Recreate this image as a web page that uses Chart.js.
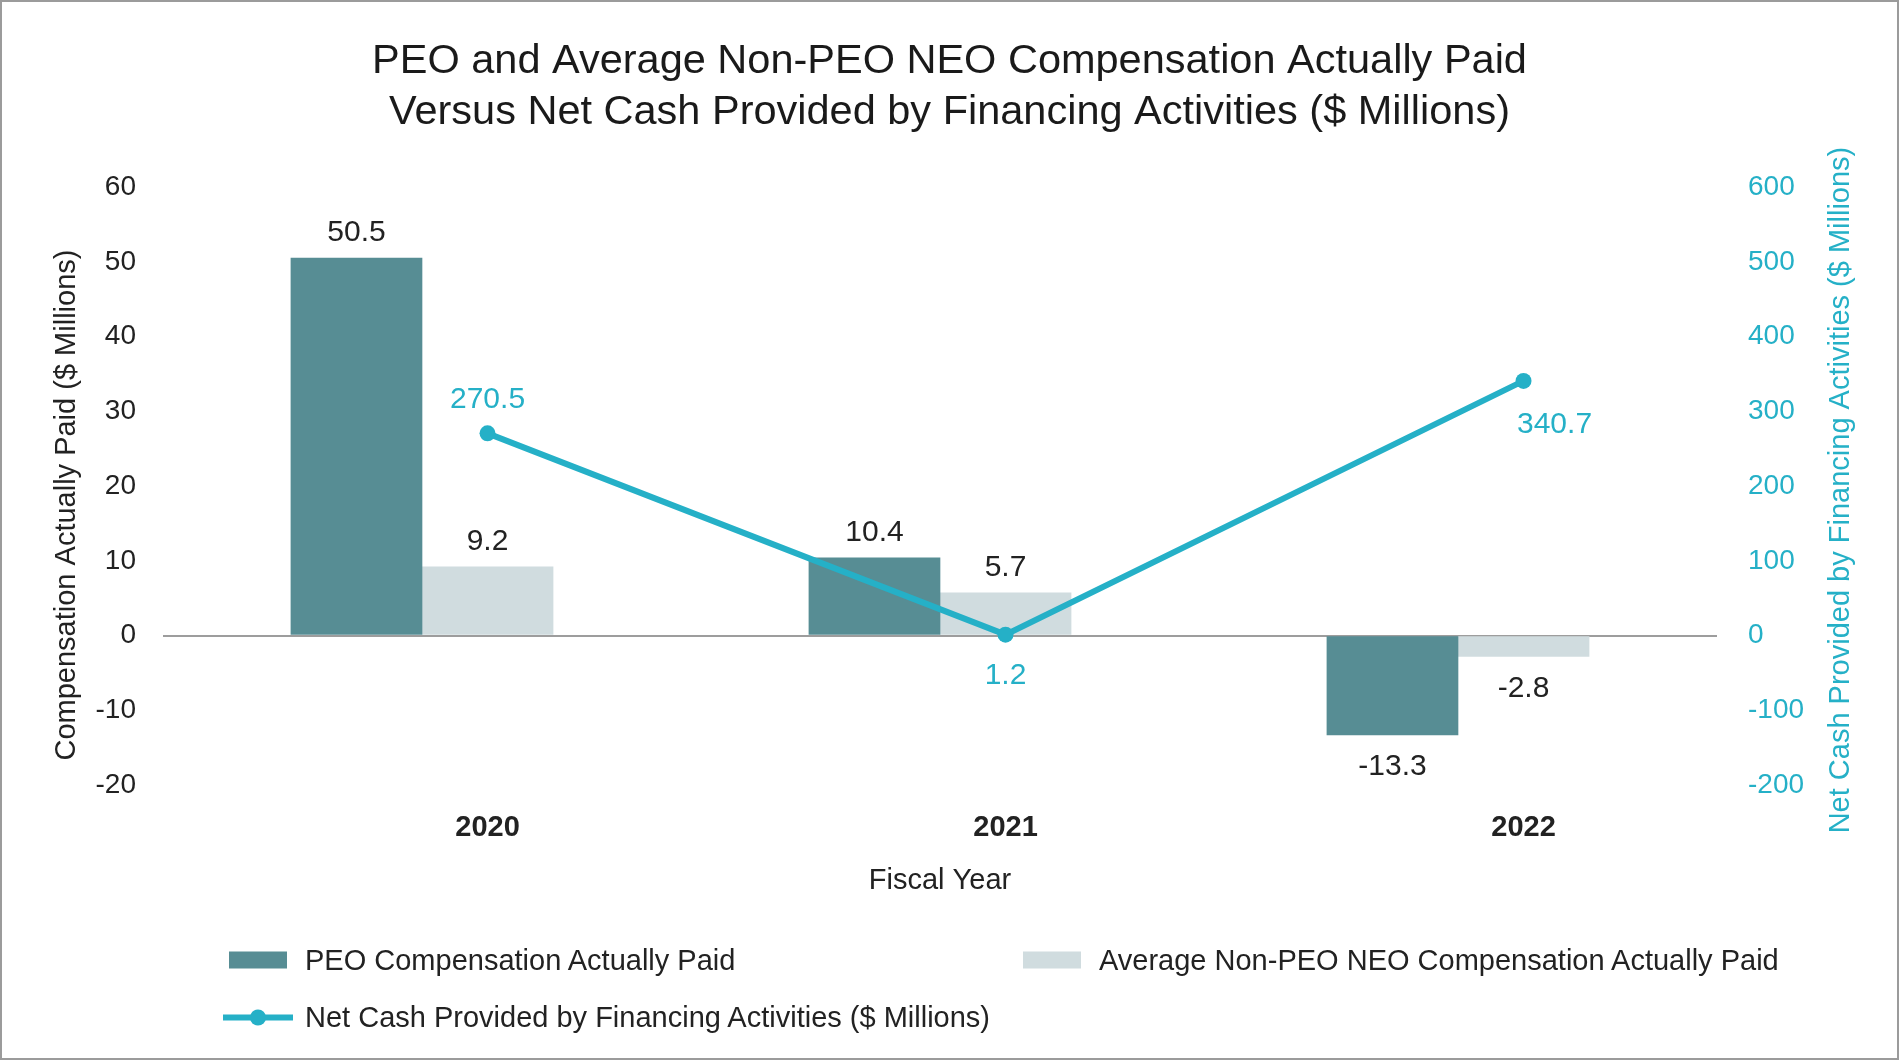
<!DOCTYPE html>
<html>
<head>
<meta charset="utf-8">
<script src="https://cdn.jsdelivr.net/npm/chart.js@4.4.1/dist/chart.umd.min.js"></script>
<style>
    html, body { margin: 0; padding: 0; background: #fff; }
    #wrap { position: relative; width: 1899px; height: 1060px; font-family: "Liberation Sans", Arial, Helvetica, sans-serif; }
    #chart { position: absolute; left: 0; top: 0; }
    #frame { position: absolute; left: 0; top: 0; right: 0; bottom: 0; border: 2px solid #9b9b9b; pointer-events: none; }
    .lg { position: absolute; display: flex; align-items: center; transform: translateY(-50%); font-size: 29px; color: #222; white-space: nowrap; }
    .lg .box { display: inline-block; width: 58px; height: 17px; margin-right: 18px; }
    .lg .ln { position: relative; display: inline-block; width: 70px; height: 16px; margin-right: 12px; }
    .lg .ln i { position: absolute; left: 0; right: 0; top: 5px; height: 6px; }
    .lg .ln b { position: absolute; left: 27px; top: 0; width: 16px; height: 16px; border-radius: 50%; }
</style>
</head>
<body>
<div id="wrap">
    <canvas id="chart" width="1899" height="1060"></canvas>
    <div id="legend"></div>
    <div id="frame"></div>
</div>
<script>
// データ
const years = ['2020', '2021', '2022'];
const peoCap = [50.5, 10.4, -13.3];
const neoCap = [9.2, 5.7, -2.8];
const netCash = [270.5, 1.2, 340.7];
const leftTicks = [-20, -10, 0, 10, 20, 30, 40, 50, 60];
const rightTicks = [-200, -100, 0, 100, 200, 300, 400, 500, 600];

// 色とフォント
const peoColor = '#578d94';
const neoColor = '#d0dcdf';
const lineColor = '#25b0c7';
const textColor = '#222';
const fontFamily = '"Liberation Sans", Arial, Helvetica, sans-serif';
Chart.defaults.font.family = fontFamily;

// レイアウト(px)
const canvasWidth = 1899;
const leftAxisWidth = 163;
const rightAxisWidth = 182;
const plotWidth = canvasWidth - leftAxisWidth - rightAxisWidth;

// 棒の幅(カテゴリ幅に対する割合)
const catPct = 0.506;
const barWidth = plotWidth / years.length * catPct / 2;
// 折れ線は2本目の棒の中心に置く
const lineShift = catPct / 4;

// 値ラベルの位置(スタイル)
const barLabelGap = 25;
const barLabelGapNeg = 32;
const lineLabelOffsets = [[0, -34], [0, 41], [31, 44]];

// 値ラベルを描くプラグイン
const valueLabels = {
    id: 'valueLabels',
    afterDatasetsDraw(chart) {
        const ctx = chart.ctx;
        ctx.save();
        ctx.font = '30px ' + fontFamily;
        ctx.textAlign = 'center';
        ctx.textBaseline = 'middle';
        chart.data.datasets.forEach((ds, i) => {
            const meta = chart.getDatasetMeta(i);
            meta.data.forEach((el, j) => {
                if (ds.type === 'line') {
                    const v = ds.data[j].y;
                    const [dx, dy] = lineLabelOffsets[j];
                    ctx.fillStyle = lineColor;
                    ctx.fillText(v.toFixed(1), el.x + dx, el.y + dy);
                } else {
                    const v = ds.data[j];
                    ctx.fillStyle = textColor;
                    ctx.fillText(v.toFixed(1), el.x, el.y + (v >= 0 ? -barLabelGap : barLabelGapNeg));
                }
            });
        });
        ctx.restore();
    }
};

// 軸タイトル(左右とも下から上へ読む向き)
const axisTitles = {
    id: 'axisTitles',
    afterDraw(chart) {
        const ctx = chart.ctx;
        const area = chart.chartArea;
        const midY = (area.top + area.bottom) / 2;
        ctx.save();
        ctx.font = '29px ' + fontFamily;
        ctx.textAlign = 'center';
        ctx.textBaseline = 'middle';
        [
            { text: 'Compensation Actually Paid ($ Millions)', x: chart.scales.y.left + 67, y: midY + 19, color: textColor },
            { text: 'Net Cash Provided by Financing Activities ($ Millions)', x: chart.scales.y2.right - 58, y: midY + 4, color: lineColor }
        ].forEach(t => {
            ctx.save();
            ctx.translate(t.x, t.y);
            ctx.rotate(-Math.PI / 2);
            ctx.fillStyle = t.color;
            ctx.fillText(t.text, 0, 0);
            ctx.restore();
        });
        ctx.restore();
    }
};

const context = document.getElementById('chart').getContext('2d');
const chart = new Chart(context, {
    type: 'bar',
    data: {
        labels: years,
        datasets: [
            {
                type: 'line',
                label: 'Net Cash Provided by Financing Activities ($ Millions)',
                data: netCash.map((v, i) => ({ x: i, y: v })),
                xAxisID: 'x2',
                yAxisID: 'y2',
                borderColor: lineColor,
                backgroundColor: lineColor,
                borderWidth: 6,
                pointRadius: 8,
                pointBorderWidth: 0,
                pointBackgroundColor: lineColor,
                tension: 0,
                order: 0
            },
            {
                label: 'PEO Compensation Actually Paid',
                data: peoCap,
                backgroundColor: peoColor,
                xAxisID: 'x',
                yAxisID: 'y',
                barThickness: barWidth,
                order: 1
            },
            {
                label: 'Average Non-PEO NEO Compensation Actually Paid',
                data: neoCap,
                backgroundColor: neoColor,
                xAxisID: 'x',
                yAxisID: 'y',
                barThickness: barWidth,
                order: 1
            }
        ]
    },
    options: {
        responsive: false,
        animation: false,
        devicePixelRatio: 1,
        layout: { padding: { left: 0, right: 0, top: 0, bottom: 162 } },
        plugins: {
            legend: { display: false },
            tooltip: { enabled: false },
            title: {
                display: true,
                text: ['PEO and Average Non-PEO NEO Compensation Actually Paid',
                       'Versus Net Cash Provided by Financing Activities ($ Millions)'],
                color: '#1a1a1a',
                font: { size: 41.5, weight: 'normal', lineHeight: 1.23 },
                padding: { top: 36, bottom: 49 }
            }
        },
        scales: {
            x: {
                type: 'category',
                display: false,
                offset: true
            },
            x2: {
                type: 'linear',
                position: 'bottom',
                offset: false,
                min: -0.5 - lineShift,
                max: years.length - 0.5 - lineShift,
                afterBuildTicks: s => { s.ticks = years.map((_, i) => ({ value: i })); },
                ticks: {
                    callback: v => years[v],
                    color: textColor,
                    font: { size: 29, weight: 'bold' },
                    padding: 26,
                    autoSkip: false,
                    maxRotation: 0
                },
                grid: { display: false, drawTicks: false, offset: false },
                border: { display: false },
                title: {
                    display: true,
                    text: 'Fiscal Year',
                    color: textColor,
                    font: { size: 29 },
                    padding: { top: 0, bottom: 0 }
                },
                afterFit: s => { s.height = 113; }
            },
            y: {
                position: 'left',
                min: leftTicks[0],
                max: leftTicks[leftTicks.length - 1],
                ticks: {
                    stepSize: leftTicks[1] - leftTicks[0],
                    color: textColor,
                    font: { size: 28 },
                    padding: 27
                },
                grid: {
                    color: c => (c.tick && c.tick.value === 0) ? '#9d9d9d' : 'rgba(0,0,0,0)',
                    lineWidth: 2,
                    drawTicks: false
                },
                border: { display: false },
                title: { display: false },
                afterFit: s => { s.width = leftAxisWidth; }
            },
            y2: {
                position: 'right',
                min: rightTicks[0],
                max: rightTicks[rightTicks.length - 1],
                ticks: {
                    stepSize: rightTicks[1] - rightTicks[0],
                    color: lineColor,
                    font: { size: 28 },
                    padding: 31
                },
                grid: { display: false, drawTicks: false },
                border: { display: false },
                title: { display: false },
                afterFit: s => { s.width = rightAxisWidth; }
            }
        }
    },
    plugins: [valueLabels, axisTitles]
});

// 凡例(HTML)
const legendSlots = [
    { ds: 1, left: 229, top: 960 },
    { ds: 2, left: 1023, top: 960 },
    { ds: 0, left: 223, top: 1017 }
];
const legendEl = document.getElementById('legend');
legendSlots.forEach(slot => {
    const ds = chart.data.datasets[slot.ds];
    const item = document.createElement('div');
    item.className = 'lg';
    item.style.left = slot.left + 'px';
    item.style.top = slot.top + 'px';
    let marker;
    if (ds.type === 'line') {
        marker = document.createElement('span');
        marker.className = 'ln';
        marker.innerHTML = '<i style="background:' + ds.borderColor + '"></i><b style="background:' + ds.borderColor + '"></b>';
    } else {
        marker = document.createElement('span');
        marker.className = 'box';
        marker.style.background = ds.backgroundColor;
    }
    const text = document.createElement('span');
    text.textContent = ds.label;
    item.appendChild(marker);
    item.appendChild(text);
    legendEl.appendChild(item);
});
</script>
</body>
</html>
